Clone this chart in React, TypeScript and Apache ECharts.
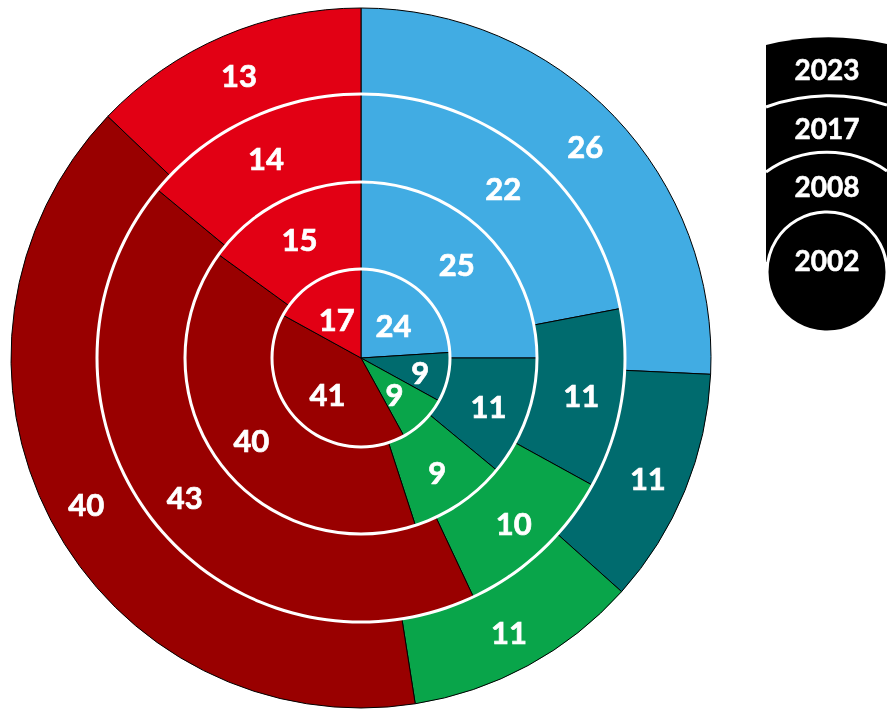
import React, { useEffect, useRef } from 'react';
import * as echarts from 'echarts';

// Segments clockwise from top
const categories = ['Blue', 'Teal', 'Green', 'Dark red', 'Red'];
const colors = ['#41ACE3', '#006B6E', '#09A54A', '#990000', '#E20014'];
const years = ['2002', '2008', '2017', '2023'];
const values2002 = [24, 9, 9, 41, 17];
const values2008 = [25, 11, 9, 40, 15];
const values2017 = [22, 11, 10, 43, 14];
const values2023 = [26, 11, 11, 40, 13];

const ringValues = [values2002, values2008, values2017, values2023];
const ringRadii: [number, number][] = [
  [0, 89],
  [89, 176],
  [176, 264],
  [264, 350],
];

echarts.graphic.registerShape(
  'leg2023',
  echarts.graphic.extendPath('M766,262 L766,45 A260,260 0 0 1 887,44 L887,262 Z', {})
);
echarts.graphic.registerShape(
  'leg2017',
  echarts.graphic.extendPath('M766,262 L766,107 A185,185 0 0 1 887,105 L887,262 Z', {})
);
echarts.graphic.registerShape(
  'arc2017',
  echarts.graphic.extendPath('M766,107 A185,185 0 0 1 887,105', {})
);
echarts.graphic.registerShape(
  'leg2008',
  echarts.graphic.extendPath('M766,262 L766,172 A105,105 0 0 1 887,171 L887,262 Z', {})
);
echarts.graphic.registerShape(
  'arc2008',
  echarts.graphic.extendPath('M766,172 A105,105 0 0 1 887,171', {})
);

const FONT = 'Lato, "Open Sans", sans-serif';

export default function App() {
  const ref = useRef<HTMLDivElement>(null);
  useEffect(() => {
    if (!ref.current) return;
    const chart = echarts.init(ref.current, undefined, { renderer: 'svg' });
    const center = [361, 358];

    const ringSeries = ringValues.map((vals, ri) => ({
      type: 'pie',
      name: years[ri],
      center,
      radius: ringRadii[ri],
      startAngle: 90,
      clockwise: true,
      silent: true,
      z: 2,
      label: {
        show: true,
        position: 'inside',
        formatter: '{c}',
        color: '#fff',
        fontSize: 31,
        fontWeight: 'bold',
        fontFamily: FONT,
        textBorderColor: '#fff',
        textBorderWidth: 0.7,
        offset: [0, 2],
      },
      labelLine: { show: false },
      emphasis: { disabled: true },
      itemStyle: { borderColor: '#000', borderWidth: 1 },
      data: vals.map((v, i) => ({
        name: categories[i],
        value: v,
        itemStyle: { color: colors[i] },
        ...(ri === 0 && i === 1 ? { label: { offset: [13, 4] } } : {}),
      })),
    }));

    const sepSeries = [89, 176, 264].map((r) => ({
      type: 'pie',
      center,
      radius: [r - 1.5, r + 1.5],
      silent: true,
      z: 3,
      label: { show: false },
      labelLine: { show: false },
      emphasis: { disabled: true },
      itemStyle: { color: '#fff', borderWidth: 0 },
      data: [{ value: 1, name: 'sep' }],
    }));

    const legendText = (text: string, y: number) => ({
      type: 'text',
      x: 827,
      y,
      z: 20,
      style: {
        text,
        fill: '#fff',
        fontSize: 28,
        fontWeight: 'bold',
        fontFamily: FONT,
        stroke: '#fff',
        lineWidth: 0.6,
        align: 'center',
        verticalAlign: 'middle',
      },
    });

    chart.setOption({
      animation: false,
      series: [...ringSeries, ...sepSeries],
      graphic: [
        { type: 'leg2023', x: 0, y: 0, z: 10, style: { fill: '#000' } },
        { type: 'leg2017', x: 0, y: 0, z: 11, style: { fill: '#000' } },
        { type: 'arc2017', x: 0, y: 0, z: 12, style: { fill: 'none', stroke: '#fff', lineWidth: 3 } },
        { type: 'leg2008', x: 0, y: 0, z: 13, style: { fill: '#000' } },
        { type: 'arc2008', x: 0, y: 0, z: 14, style: { fill: 'none', stroke: '#fff', lineWidth: 3 } },
        {
          type: 'circle',
          z: 15,
          shape: { cx: 827, cy: 272, r: 60 },
          style: { fill: '#000', stroke: '#fff', lineWidth: 3 },
        },
        legendText(years[3], 69),
        legendText(years[2], 128),
        legendText(years[1], 186),
        legendText(years[0], 260),
      ],
    });
    return () => chart.dispose();
  }, []);
  return (
    <div
      ref={ref}
      style={{ position: 'fixed', left: 0, top: 0, width: 887, height: 709 }}
    />
  );
}
